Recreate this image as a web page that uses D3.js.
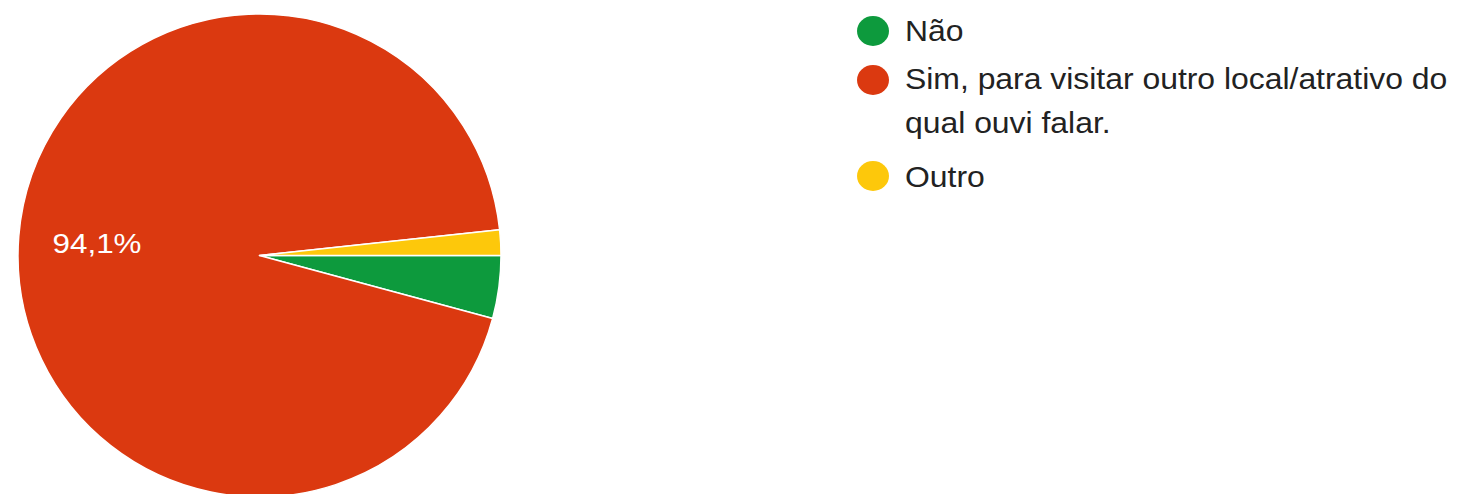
<!DOCTYPE html>
<html>
<head>
<meta charset="utf-8">
<script src="https://cdn.jsdelivr.net/npm/d3@7"></script>
<style>
  html, body { margin: 0; padding: 0; background: #ffffff; }
  svg { display: block; }
</style>
</head>
<body>
<svg id="chart" width="1458" height="494"></svg>
<script>
// ---- data ----
const categories = ["Não", "Sim, para visitar outro local/atrativo do qual ouvi falar.", "Outro"];
const legendLines = [["Não"], ["Sim, para visitar outro local/atrativo do", "qual ouvi falar."], ["Outro"]];
const values = [4.2, 94.1, 1.7];
const colors = ["#0d9a3d", "#db3910", "#fdc80b"];
const labelTexts = ["", "94,1%", ""];

// ---- layout ----
const W = 1458, H = 494;
const cx = 259.5, cy = 255.5, R = 241.5;

const svg = d3.select("#chart");

const pie = d3.pie().sort(null).value(d => d)
  .startAngle(Math.PI / 2).endAngle(Math.PI / 2 + 2 * Math.PI);
const arcs = pie(values);
const arc = d3.arc().innerRadius(0).outerRadius(R);
const labelArc = d3.arc().innerRadius(R * 0.675).outerRadius(R * 0.675);

const g = svg.append("g").attr("transform", `translate(${cx},${cy})`);
g.selectAll("path.slice").data(arcs).join("path")
  .attr("class", "slice")
  .attr("d", arc)
  .attr("fill", (d, i) => colors[i])
  .attr("stroke", "#ffffff")
  .attr("stroke-width", 1.5)
  .attr("stroke-linejoin", "round");

g.selectAll("text.lbl").data(arcs).join("text")
  .attr("class", "lbl")
  .attr("transform", d => { const c = labelArc.centroid(d); return `translate(${c[0]},${c[1]}) scale(1.1,1)`; })
  .attr("text-anchor", "middle")
  .attr("dy", "0.36em")
  .attr("font-family", "'Liberation Sans', Arial, sans-serif")
  .attr("font-size", 28.5)
  .attr("fill", "#ffffff")
  .text((d, i) => labelTexts[i]);

// ---- legend ----
const legendX = 873;
const dotY = [31, 80, 176];
const baseY = [[41], [89, 133], [187]];
const lg = svg.append("g");
categories.forEach((c, i) => {
  lg.append("ellipse")
    .attr("cx", legendX).attr("cy", dotY[i])
    .attr("rx", 16).attr("ry", 15)
    .attr("fill", colors[i]);
  legendLines[i].forEach((line, j) => {
    lg.append("text")
      .attr("transform", `translate(905,${baseY[i][j]}) scale(1.1,1)`)
      .attr("font-family", "'Liberation Sans', Arial, sans-serif")
      .attr("font-size", 29)
      .attr("fill", "#222222")
      .text(line);
  });
});
</script>
</body>
</html>
